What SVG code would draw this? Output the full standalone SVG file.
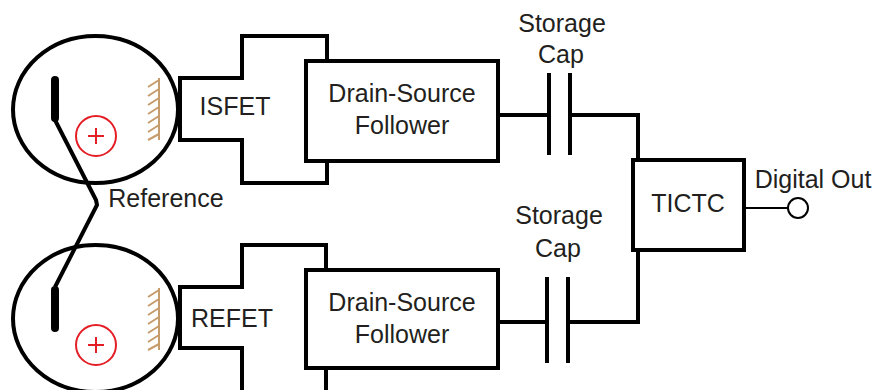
<svg xmlns="http://www.w3.org/2000/svg" width="877" height="390" viewBox="0 0 877 390">
  <defs>
    <style>
      .bg { fill: #ffffff; }
      .outline { fill: #ffffff; stroke: #000000; stroke-width: 4; stroke-linejoin: miter; }
      .well { fill: none; stroke: #000000; stroke-width: 4; }
      .wire { fill: none; stroke: #000000; stroke-width: 4; stroke-linejoin: miter; }
      .thin { fill: none; stroke: #000000; stroke-width: 2; }
      .plate { stroke: #000000; stroke-width: 4; }
      .electrode { stroke: #000000; stroke-width: 8; stroke-linecap: round; }
      .ion { fill: none; stroke: #e41e26; stroke-width: 2; }
      .hatch { fill: none; stroke: #c69c6d; stroke-width: 2; }
      .label { font-family: "Liberation Sans", Arial, sans-serif; font-size: 25px; fill: #231f20; text-anchor: middle; }
    </style>
    <!-- gate surface with hatching -->
    <g id="surface">
      <line class="hatch" x1="159" y1="0" x2="159" y2="62"/>
      <path class="hatch" d="M159 2 l-11 7 M159 11 l-11 7 M159 20 l-11 7 M159 29 l-11 7 M159 38 l-11 7 M159 47 l-11 7 M159 56 l-11 6"/>
    </g>
    <!-- positive ion -->
    <g id="ion">
      <circle class="ion" cx="0" cy="0" r="20"/>
      <path class="ion" d="M-8 0 H8 M0 -8 V8"/>
    </g>
  </defs>

  <rect class="bg" x="0" y="0" width="877" height="390"/>

  <!-- sensing well -->
  <g id="well-top">
    <ellipse class="well" cx="95.5" cy="109.5" rx="82.5" ry="73.5"/>
    <line class="electrode" x1="55" y1="80" x2="55" y2="118"/>
    <use href="#ion" x="96" y="136"/>
    <use href="#surface" x="0" y="78"/>
  </g>

  <!-- reference well -->
  <g id="well-bottom">
    <ellipse class="well" cx="95.5" cy="318.5" rx="82.5" ry="73.5"/>
    <line class="electrode" x1="55" y1="290" x2="55" y2="328"/>
    <use href="#ion" x="96" y="345"/>
    <use href="#surface" x="0" y="288"/>
  </g>

  <!-- ISFET -->
  <g id="isfet">
    <path class="outline" d="M180 78 H242 V36 H327 V183 H242 V140 H180 Z"/>
    <text class="label" x="235" y="115">ISFET</text>
  </g>

  <!-- REFET -->
  <g id="refet">
    <path class="outline" d="M180 287 H242 V245 H326 V396 H242 V348 H180 Z"/>
    <text class="label" x="232" y="327">REFET</text>
  </g>

  <!-- source followers -->
  <g id="follower-top">
    <rect class="outline" x="306" y="61" width="192" height="100"/>
    <text class="label" x="402" y="102">Drain-Source</text>
    <text class="label" x="402" y="134">Follower</text>
  </g>

  <g id="follower-bottom">
    <rect class="outline" x="306" y="270" width="192" height="98"/>
    <text class="label" x="402" y="311">Drain-Source</text>
    <text class="label" x="402" y="343">Follower</text>
  </g>

  <!-- storage capacitors -->
  <g id="cap-top">
    <line class="plate" x1="549" y1="73" x2="549" y2="155"/>
    <line class="plate" x1="570" y1="73" x2="570" y2="155"/>
    <text class="label" x="562" y="32">Storage</text>
    <text class="label" x="561" y="63">Cap</text>
  </g>

  <g id="cap-bottom">
    <line class="plate" x1="547" y1="277" x2="547" y2="363"/>
    <line class="plate" x1="568" y1="277" x2="568" y2="363"/>
    <text class="label" x="559" y="224">Storage</text>
    <text class="label" x="558" y="257">Cap</text>
  </g>

  <!-- time-interval comparator -->
  <g id="tictc">
    <rect class="outline" x="633" y="160" width="111" height="90"/>
    <text class="label" x="688" y="212">TICTC</text>
  </g>

  <!-- output terminal -->
  <g id="digital-out">
    <circle class="thin" cx="798" cy="208" r="10"/>
    <text class="label" x="813" y="188">Digital Out</text>
  </g>

  <!-- shared reference electrode label -->
  <g id="reference">
    <text class="label" x="166" y="207">Reference</text>
  </g>

  <!-- wiring -->
  <g id="connectors">
    <polyline class="wire" points="55,120 96,200 97,205 55,287"/>
    <line class="wire" x1="498" y1="115" x2="549" y2="115"/>
    <polyline class="wire" points="570,115 638,115 638,162"/>
    <line class="wire" x1="498" y1="322" x2="547" y2="322"/>
    <polyline class="wire" points="568,322 638,322 638,250"/>
    <line class="thin" x1="744" y1="208" x2="788" y2="208"/>
  </g>
</svg>
